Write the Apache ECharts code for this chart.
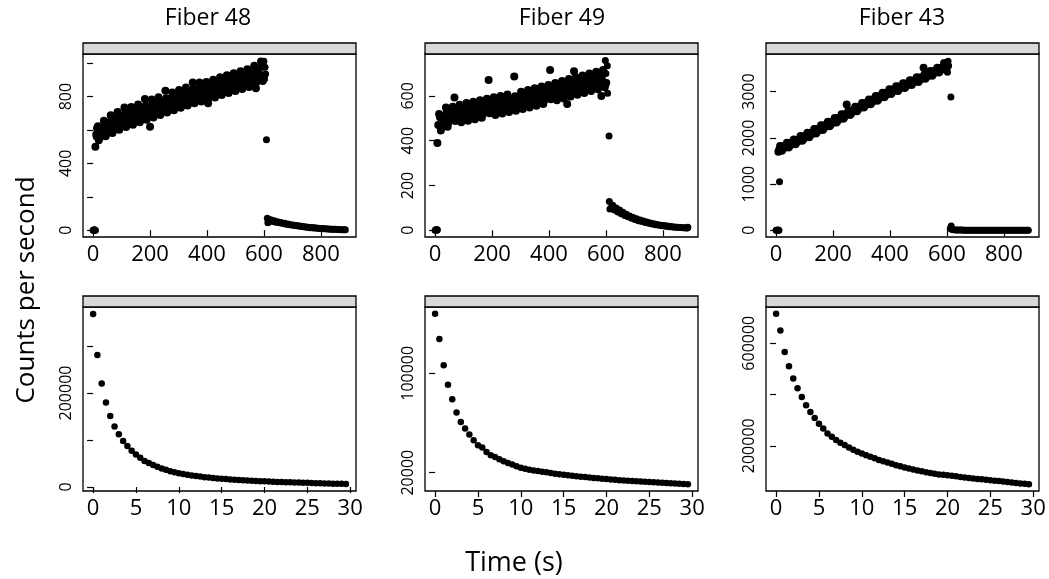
<!DOCTYPE html>
<html>
<head>
<meta charset="utf-8">
<title>Fiber counts</title>
<script src="https://cdn.jsdelivr.net/npm/echarts@6.0.0/dist/echarts.min.js"></script>
<style>
html,body{margin:0;padding:0;background:#fff;}
#main{width:1049px;height:579px;}
</style>
</head>
<body>
<div id="main"></div>
<script>
var fibers = ['Fiber 48', 'Fiber 49', 'Fiber 43'];

// top row: counts while the lamp runs (dense band), two interleaved sample sets, times in s
var bandTime = [8,14,20,26,32,38,44,50,56,62,68,74,80,86,92,98,104,110,116,122,128,134,140,146,152,158,164,170,176,182,188,194,200,206,212,218,224,230,236,242,248,254,260,266,272,278,284,290,296,302,308,314,320,326,332,338,344,350,356,362,368,374,380,386,392,398,404,410,416,422,428,434,440,446,452,458,464,470,476,482,488,494,500,506,512,518,524,530,536,542,548,554,560,566,572,578,584,590,596];
var bandTime2 = [11,17,23,29,35,41,47,53,59,65,71,77,83,89,95,101,107,113,119,125,131,137,143,149,155,161,167,173,179,185,191,197,203,209,215,221,227,233,239,245,251,257,263,269,275,281,287,293,299,305,311,317,323,329,335,341,347,353,359,365,371,377,383,389,395,401,407,413,419,425,431,437,443,449,455,461,467,473,479,485,491,497,503,509,515,521,527,533,539,545,551,557,563,569,575,581,587,593,599];
var fiber48Band = [500,610,538,614,580,655,562,638,603,688,582,657,622,707,602,676,640,735,618,691,655,738,632,706,669,753,646,720,684,785,661,734,620,782,675,749,712,796,690,763,727,835,704,778,741,825,718,792,756,839,733,806,770,854,747,821,784,885,760,833,795,885,770,842,805,887,760,854,818,901,795,868,832,916,809,882,845,928,821,894,857,940,833,906,869,952,845,918,881,964,857,931,896,985,850,949,914,1010,893];
var fiber48Band2 = [573,622,552,598,597,646,576,622,620,668,596,641,639,687,616,660,657,704,632,675,672,718,646,690,686,733,660,704,701,747,675,718,715,762,689,733,729,776,704,747,744,790,718,762,758,805,732,776,773,819,747,790,787,834,761,805,801,848,774,817,812,858,784,826,822,867,794,838,835,881,809,852,849,896,823,866,862,908,835,878,874,920,847,890,886,932,859,902,898,944,871,915,913,960,889,933,931,978,907];
var fiber49Band = [390,519,445,504,484,548,462,521,497,552,593,529,505,560,482,537,513,568,489,544,520,574,496,550,526,581,502,557,532,587,671,563,539,594,515,570,545,600,521,576,551,606,528,582,558,686,534,588,564,619,541,595,571,626,548,603,579,634,556,611,587,642,564,618,594,649,716,627,603,658,580,635,611,666,588,643,564,675,597,652,710,683,605,660,636,691,613,669,645,700,622,677,653,708,630,685,600,716,639];
var fiber49Band2 = [470,505,459,499,494,529,480,516,507,538,488,524,515,546,496,532,523,554,503,539,530,560,510,545,536,567,516,552,542,573,523,558,549,580,529,565,555,586,535,571,561,592,542,577,568,598,548,583,574,605,555,590,581,612,562,598,589,620,570,606,597,628,578,613,604,635,585,622,613,644,594,630,621,652,602,638,629,661,611,647,638,669,619,655,646,677,627,664,655,686,636,672,663,694,644,680,671,702,653];
var fiber43Band = [1700,1822,1720,1818,1796,1894,1792,1890,1868,1966,1864,1962,1940,2038,1936,2034,2013,2113,2013,2113,2092,2192,2092,2192,2172,2271,2171,2271,2251,2351,2250,2350,2330,2430,2331,2431,2412,2512,2412,2513,2720,2594,2494,2594,2575,2675,2576,2676,2656,2756,2655,2753,2732,2831,2729,2828,2806,2905,2804,2902,2881,2979,2878,2977,2955,3054,2951,3047,3023,3119,3016,3112,3088,3184,3080,3177,3153,3249,3145,3241,3218,3314,3210,3307,3284,3520,3277,3374,3351,3448,3345,3442,3419,3516,3412,3509,3486,3620,3480];
var fiber43Band2 = [1748,1811,1749,1812,1820,1883,1821,1884,1892,1955,1893,1956,1964,2027,1965,2028,2037,2102,2042,2107,2116,2181,2121,2186,2196,2260,2200,2265,2275,2340,2279,2344,2354,2419,2360,2425,2436,2501,2441,2507,2517,2583,2523,2588,2599,2664,2605,2670,2680,2745,2684,2747,2756,2820,2758,2822,2830,2894,2833,2896,2905,2968,2907,2971,2979,3043,2980,3041,3047,3108,3045,3106,3112,3173,3109,3171,3177,3238,3174,3235,3242,3303,3239,3301,3308,3369,3306,3368,3375,3437,3374,3436,3443,3505,3441,3503,3510,3572,3509];

// after the lamp is switched off
var tailTime = [612,618,624,630,636,642,648,654,660,666,672,678,684,690,696,702,708,714,720,726,732,738,744,750,756,762,768,774,780,786,792,798,804,810,816,822,828,834,840,846,852,858,864,870,876,882];
var fiber48Tail = [72,58,62,52,56,48,50,44,46,40,41,36,37,32,33,29,30,26,27,23,24,20,21,18,18,15,16,13,14,11,12,10,10,8,9,7,7,6,6,5,5,4,4,3,3,3];
var fiber49Tail = [128,100,112,90,100,82,90,74,80,66,72,60,64,54,57,48,51,43,46,39,41,35,37,31,33,28,29,25,26,22,23,20,21,18,19,16,17,15,15,13,14,12,12,11,11,10];
var fiber43Tail = [40,18,10,8,6,5,4,4,3,3,3,2,2,2,2,2,1,1,1,1,1,1,1,1,1,0,0,0,0,0,0,0,0,0,0,0,0,0,0,0,0,0,0,0,0,0];

// single points: start-up zeros, band edges, switch-off point
var fiber48ExtraTime = [0,2,4,6,8,11,600,602,604,606,609,614,886];
var fiber48ExtraVal = [0,0,3,0,0,560,1012,905,975,935,541,45,2];
var fiber49ExtraTime = [0,2,4,6,8,598,600,603,605,606,611,614,886,888];
var fiber49ExtraVal = [0,0,4,0,2,758,700,660,735,612,421,95,10,14];
var fiber43ExtraTime = [0,2,4,6,8,10,12,600,602,604,606,614,615,886];
var fiber43ExtraVal = [0,0,0,3,0,0,1053,3600,3420,3660,3560,2884,94,0];

// bottom row: first 30 s of the decay
var decayTime = [0,0.5,1,1.5,2,2.5,3,3.5,4,4.5,5,5.5,6,6.5,7,7.5,8,8.5,9,9.5,10,10.5,11,11.5,12,12.5,13,13.5,14,14.5,15,15.5,16,16.5,17,17.5,18,18.5,19,19.5,20,20.5,21,21.5,22,22.5,23,23.5,24,24.5,25,25.5,26,26.5,27,27.5,28,28.5,29,29.5];
var fiber48Decay = [368000,281000,220000,180000,151000,129000,112000,98000,87000,77000,69000,62000,55500,51000,47000,43000,39500,36500,33500,31300,29200,27500,26000,24600,23300,22100,21000,20000,19100,18300,17600,16900,16200,15600,15000,14400,13900,13400,12900,12500,12100,11700,11300,10900,10600,10300,10000,9700,9400,9100,8800,8500,8200,7900,7600,7300,7100,6900,6700,6400];
var fiber49Decay = [147900,127500,106500,90800,79000,68500,60700,55600,50700,46100,42100,40200,36700,34000,32700,30800,29200,27800,26500,25100,24000,23200,22400,21800,21300,20800,20300,19700,19200,18800,18400,18000,17600,17200,16800,16500,16100,15800,15500,15200,14900,14600,14300,14000,13800,13600,13400,13200,13000,12800,12500,12300,12100,11900,11700,11500,11300,11100,10900,10600];
var fiber43Decay = [714700,649500,566100,510100,461900,424100,390200,357700,331600,308100,286000,267800,248200,235200,222200,211700,202600,193500,184400,176600,170000,163500,157000,151000,144500,139500,134500,129500,124500,120000,115300,111500,107500,104000,100500,97000,94000,91000,88000,86500,85300,83000,80800,78600,76500,74500,72600,70800,69000,67300,65800,64000,62200,60400,58500,56500,54700,53000,51500,50200];

// ticks and tick labels
var topXTicks = [0,200,400,600,800];
var bottomXTicks = [0,5,10,15,20,25,30];
var topYTicks = [[0,200,400,600,800,1000],[0,200,400,600],[0,1000,2000,3000]];
var topYLabels = [[0,400,800],[0,200,400,600],[0,1000,2000,3000]];
var bottomYTicks = [[0,100000,200000,300000],[20000,100000],[200000,400000,600000]];
var bottomYLabels = [[0,200000],[20000,100000],[200000,600000]];

var bands = [fiber48Band, fiber49Band, fiber43Band];
var bands2 = [fiber48Band2, fiber49Band2, fiber43Band2];
var tails = [fiber48Tail, fiber49Tail, fiber43Tail];
var extraTimes = [fiber48ExtraTime, fiber49ExtraTime, fiber43ExtraTime];
var extraVals = [fiber48ExtraVal, fiber49ExtraVal, fiber43ExtraVal];
var decays = [fiber48Decay, fiber49Decay, fiber43Decay];

var font = 'Open Sans';
var colLeft = [83, 425, 766], colWidth = 273;
var rows = [{top:54, height:183, strip:43}, {top:307, height:184, strip:296}];
var titleX = [208, 562, 902];
var xRange = [[-35.5, 923.5], [-1.18, 30.68]];
var yRange = [
	[[-41,1055],[-30,787],[-145,3815]],
	[[-8500,383000],[5266,153334],[23580,741240]]
];

function pairs(xs, ys){
	var out = [];
	for (var i = 0; i < xs.length; i++) {
		out.push([xs[i], ys[i]]);
	}
	return out;
}
function plain(v){ return String(v); }
function dots(g, data, size){
	return {type:'scatter', xAxisIndex:g, yAxisIndex:g, data:data, symbol:'circle',
		symbolSize:size, itemStyle:{color:'#000', opacity:1}, silent:true};
}

var grid = [], xAxis = [], yAxis = [], series = [], graphic = [];
for (var r = 0; r < 2; r++) {
	for (var c = 0; c < 3; c++) {
		var g = r * 3 + c;
		grid.push({left:colLeft[c], top:rows[r].top, width:colWidth, height:rows[r].height,
			show:true, borderColor:'#000', borderWidth:1.3});
		xAxis.push({
			type:'value', gridIndex:g, min:xRange[r][0], max:xRange[r][1],
			axisLine:{show:false}, splitLine:{show:false},
			axisTick:{show:true, length:6, lineStyle:{color:'#000', width:1.2}, customValues: r ? bottomXTicks : topXTicks},
			axisLabel:{customValues: r ? bottomXTicks : topXTicks, formatter:plain, color:'#000', fontFamily:font, fontSize:22, margin:7}
		});
		yAxis.push({
			type:'value', gridIndex:g, min:yRange[r][c][0], max:yRange[r][c][1],
			axisLine:{show:false}, splitLine:{show:false},
			axisTick:{show:true, length:6, lineStyle:{color:'#000', width:1.2}, customValues: r ? bottomYTicks[c] : topYTicks[c]},
			axisLabel:{customValues: r ? bottomYLabels[c] : topYLabels[c], formatter:plain, rotate:90, color:'#000', fontFamily:font, fontSize:16, margin:9}
		});
		if (r === 0) {
			// the dense band gets slightly bigger dots so it reads as solid
			series.push(dots(g, pairs(bandTime, bands[c]).concat(pairs(bandTime2, bands2[c])), 8));
			series.push(dots(g, pairs(tailTime, tails[c]).concat(pairs(extraTimes[c], extraVals[c])), 7));
		} else {
			series.push(dots(g, pairs(decayTime, decays[c]), 6.5));
		}
		// grey strip on top of each panel
		graphic.push({type:'rect', shape:{x:colLeft[c], y:rows[r].strip, width:colWidth, height:rows[r].top - rows[r].strip},
			style:{fill:'#d9d9d9', stroke:'#000', lineWidth:1.3}, silent:true});
	}
}
for (var k = 0; k < 3; k++) {
	graphic.push({type:'text', x:titleX[k], y:18, style:{text:fibers[k], fill:'#000', font:'23px "Open Sans"', align:'center', verticalAlign:'middle'}});
}
graphic.push({type:'text', x:27, y:290, rotation:Math.PI / 2,
	style:{text:'Counts per second', fill:'#000', font:'26px "Open Sans"', align:'center', verticalAlign:'middle'}});
graphic.push({type:'text', x:514, y:563,
	style:{text:'Time (s)', fill:'#000', font:'27px "Open Sans"', align:'center', verticalAlign:'middle'}});

var chart = echarts.init(document.getElementById('main'));
chart.setOption({
	animation:false,
	backgroundColor:'#fff',
	grid:grid,
	xAxis:xAxis,
	yAxis:yAxis,
	series:series,
	graphic:graphic
});
</script>
</body>
</html>
